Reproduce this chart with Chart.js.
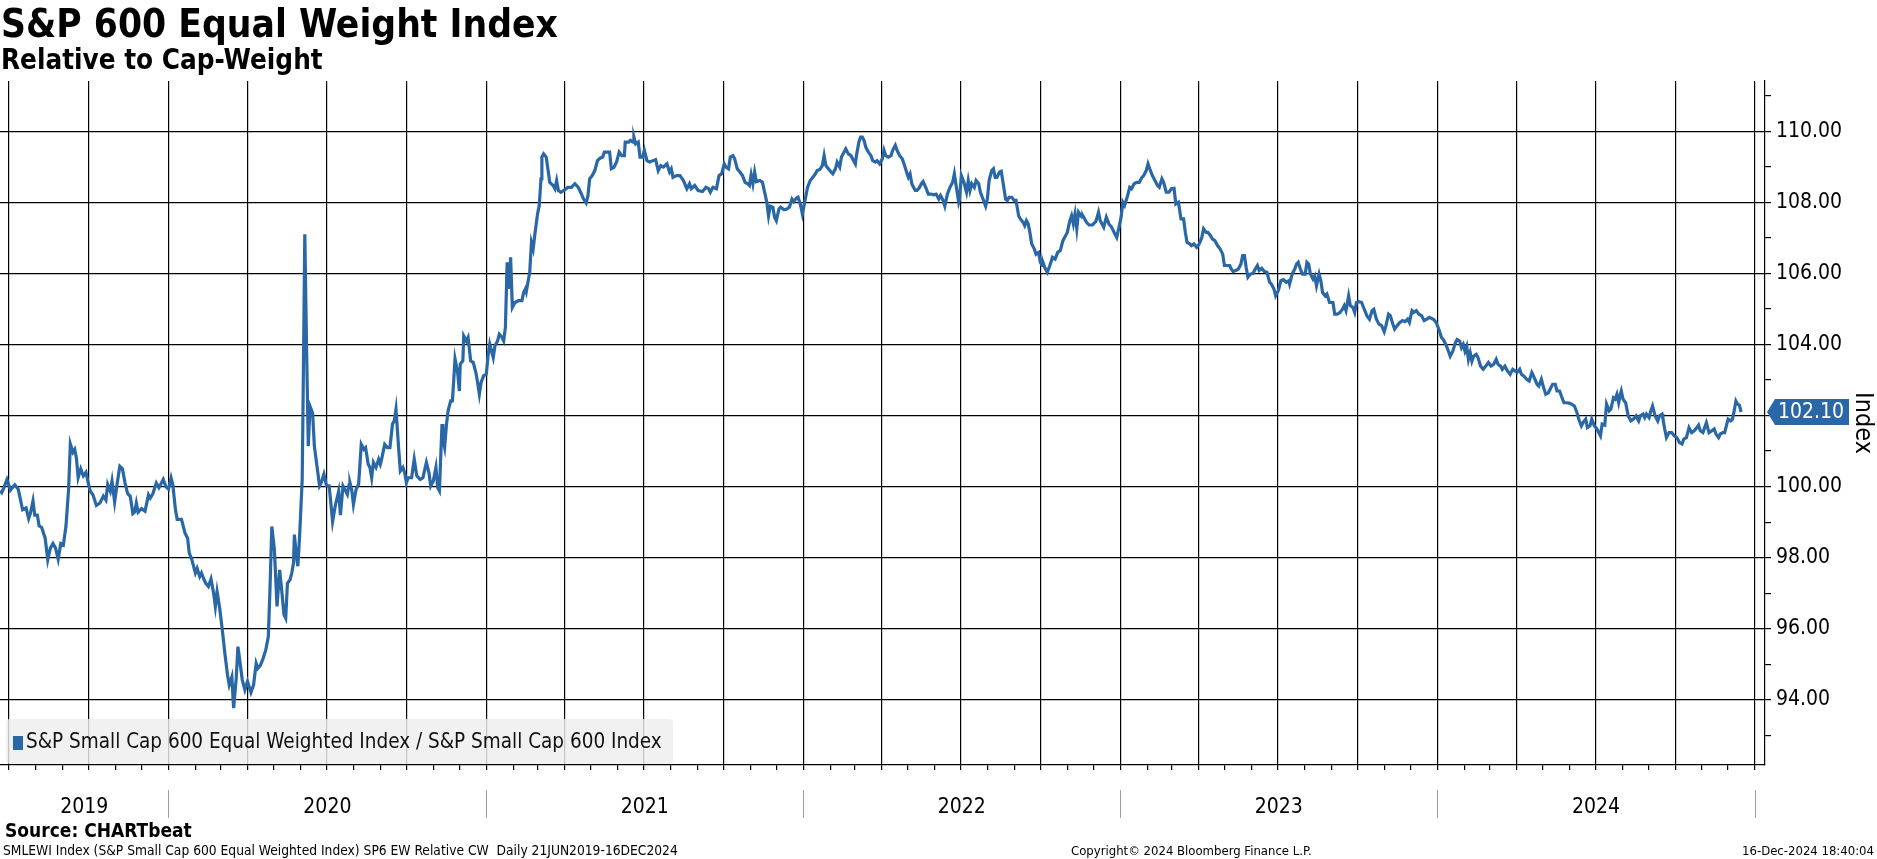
<!DOCTYPE html>
<html>
<head>
<meta charset="utf-8">
<script src="https://cdn.jsdelivr.net/npm/chart.js@4.4.1/dist/chart.umd.min.js"></script>
<style>
  html, body { margin: 0; padding: 0; background: #fff; }
  #wrap { position: relative; width: 1877px; height: 859px; overflow: hidden;
    font-family: "DejaVu Sans Condensed", "DejaVu Sans", sans-serif; font-stretch: condensed; color: #000; }
  #wrap canvas { position: absolute; left: 0; top: 0; }
  .txt { position: absolute; white-space: nowrap; line-height: 1; }
  #title { left: 1px; top: 5px; font-size: 38.6px; font-weight: bold; }
  #subtitle { left: 1px; top: 46px; font-size: 27.6px; font-weight: bold; }
  #source { left: 5px; top: 821px; font-size: 19px; font-weight: bold; }
  #desc { left: 3px; top: 844px; font-size: 13.7px; }
  #copy { left: 1071px; top: 844px; font-size: 13px; }
  #stamp { right: 3px; top: 844px; font-size: 13px; }
</style>
</head>
<body>
<div id="wrap">
  <canvas id="chart"></canvas>
  <div class="txt" id="title">S&amp;P 600 Equal Weight Index</div>
  <div class="txt" id="subtitle">Relative to Cap-Weight</div>
  <div class="txt" id="source">Source: CHARTbeat</div>
  <div class="txt" id="desc">SMLEWI Index (S&amp;P Small Cap 600 Equal Weighted Index) SP6 EW Relative CW&nbsp; Daily 21JUN2019-16DEC2024</div>
  <div class="txt" id="copy">Copyright© 2024 Bloomberg Finance L.P.</div>
  <div class="txt" id="stamp">16-Dec-2024 18:40:04</div>
</div>
<script>
// S&P 600 EW / S&P 600 ratio
const seriesLabel = 'S&P Small Cap 600 Equal Weighted Index / S&P Small Cap 600 Index'
const startDate = '2019-06-21'   // day 0 of dayOffsets
const yearLabels = ['2019', '2020', '2021', '2022', '2023', '2024']
const yTickValues = [94, 96, 98, 100, 102, 104, 106, 108, 110]

// days since startDate
const dayOffsets = [
  0,2,5,8,10,12,17,21,23,26,30,33,35,38,40,43,45,48,52,55,
  58,61,64,67,70,73,76,79,81,84,86,88,90,93,96,99,102,104,107,111,
  115,119,122,124,127,129,132,135,138,141,144,147,150,153,155,157,159,163,167,171,
  173,176,180,183,188,191,194,197,199,202,204,209,213,216,218,221,225,227,230,232,
  235,237,240,243,246,248,250,253,256,259,262,264,267,269,272,274,276,279,282,285,
  289,292,295,297,300,303,306,309,311,313,316,319,322,324,327,329,331,334,336,338,
  339,341,343,345,348,349,351,353,355,357,360,362,365,368,370,373,376,379,381,383,
  386,390,392,395,397,400,402,
  403,405,407,410,413,416,419,421,424,426,
  428,430,433,436,438,439,443,446,449,452,
  454,456,459,461,464,466,468,470,474,477,
  480,484,487,491,494,496,499,502,504,506,
  509,510,512,514,516,519,521,524,527,529,
  530,533,534,537,539,542,545,548,550,552,
  554,557,560,562,564,566,568,570,573,575,
  578,580,582,584,586,588,590,593,597,601,
  603,605,606,610,612,614,616,619,621,623,
  624,626,629,632,633,637,639,641,643,646,
  649,652,654,658,662,666,669,672,675,677,
  679,682,685,688,691,694,696,699,702,704,
  707,710,713,716,719,720,724,726,729,730,
  732,735,737,740,742,745,748,752,755,758,
  761,764,768,771,773,775,779,783,787,791,
  794,796,800,804,809,813,816,
  818,821,825,828,831,834,836,839,841,844,
  846,849,852,855,858,861,863,865,867,869,
  871,875,878,881,883,885,887,890,892,894,
  897,899,903,906,909,912,914,917,919,922,
  924,927,930,933,936,939,941,944,947,949,
  951,954,957,959,962,964,967,969,972,974,
  977,980,983,985,986,989,991,993,995,997,
  1000,1003,1005,1008,1010,1013,1016,1018,1020,1023,
  1026,1028,1031,1033,1036,1039,1041,1044,1046,1048,
  1050,1052,1054,1056,1059,1061,1063,1066,1069,1072,
  1075,1078,1081,1083,1086,1088,1091,1094,1097,1099,
  1101,1104,1105,1107,1110,1113,1115,1117,1119,1122,
  1124,1127,1129,1132,1135,1137,1139,1142,1144,1146,
  1148,1151,1153,1155,1158,1160,1162,1165,1168,1170,
  1173,1175,1178,1180,1182,1184,1186,1188,1191,1193,
  1196,1198,1200,1201,1203,1206,1209,1212,1215,1218,
  1221,1224,1226,1229,
  1232,1234,1236,1238,1240,1242,1246,1247,1251,1254,
  1258,1262,1265,1267,1271,1274,1277,1280,1283,1286,
  1289,1291,1293,1295,1298,1301,1303,1306,1309,1312,
  1315,1317,1320,1322,1324,1327,1330,1333,1335,1338,
  1340,1343,1346,1349,1352,1354,1357,1360,1363,1365,
  1367,1370,1372,1375,1378,1381,1384,1386,1389,1391,
  1394,1396,1399,1402,1405,1408,1410,1412,1416,1418,
  1420,1423,1426,1429,1431,1433,1435,1437,1440,1443,
  1446,1448,1450,1453,1456,1459,1462,1464,1467,1469,
  1472,1475,1478,1481,1484,1485,1488,1491,1493,1495,
  1498,1500,1503,1505,1507,1509,1512,1514,1516,1519,
  1521,1523,1526,1528,1531,1535,1537,1540,1543,1546,
  1548,1550,1553,1555,1558,1560,1562,1565,1568,1571,
  1574,1577,1580,1582,1585,1588,1591,1594,1596,1599,
  1601,1604,1606,1609,1612,1615,1618,1621,1623,1626,
  1628,1631,1634,1637,1640,1643,1646,
  1651,1654,1657,1660,1662,1665,1668,1670,1673,1676,
  1678,1681,1683,1685,1687,1689,1691,1693,1695,1697,
  1700,1702,1705,1708,1711,1714,1717,1720,1723,1725,
  1728,1730,1733,1736,1739,1742,1745,1747,1750,1752,
  1755,1758,1761,1764,1766,1770,1772,1775,1777,1780,
  1783,1786,1788,1791,1793,1796,1798,1801,1804,1807,
  1810,1813,1816,1818,1821,1823,1826,1828,1831,1833,
  1836,1839,1843,1845,1848,1850,1853,1855,1858,1860,
  1862,1864,1866,1867,1869,1872,1875,1878,1881,1884,
  1887,1889,1892,1894,1896,1899,1901,1903,1906,1909,
  1911,1914,1915,1917,1919,1922,1925,1928,1931,1934,
  1937,1939,1942,1945,1948,1951,1954,1956,1958,1961,
  1963,1965,1968,1971,1974,1976,1979,1981,1984,1986,
  1988,1990,1993,1995,1997,1999,2001,2003,2005
]

const ratioValues = [
  99.88,99.83,100.0,100.2,100.05,99.9,100.05,99.93,99.7,99.35,99.4,99.1,99.25,99.6,99.2,99.2,98.9,98.85,98.55,97.94,
  98.27,98.4,98.27,97.96,98.4,98.36,98.9,99.93,101.2,100.97,101.05,100.8,100.25,100.5,100.3,100.4,100.06,99.87,99.77,99.47,
  99.54,99.73,99.62,100.06,99.87,100.16,99.57,100.1,100.57,100.5,100.1,99.8,99.73,99.24,99.28,99.54,99.28,99.38,99.31,99.77,
  99.68,99.8,100.1,99.97,100.2,100.0,99.93,100.25,100.06,99.36,99.08,99.08,98.7,98.55,98.13,97.94,97.57,97.7,97.47,97.57,
  97.38,97.28,97.19,97.4,97.0,96.63,97.05,96.58,95.97,95.3,94.7,94.42,94.65,93.77,94.6,95.5,95.13,94.56,94.28,94.52,
  94.21,94.42,95.03,94.89,94.98,95.17,95.4,95.78,97.19,98.88,98.22,96.63,97.66,97.19,96.4,96.3,97.28,97.38,97.57,97.85,
  98.65,98.13,97.76,98.6,100.2,102.36,107.1,103.95,101.14,102.26,102.07,101.14,100.58,100.02,100.11,100.35,100.02,100.02,99.54,99.02,
  99.45,99.87,99.2,100.02,99.93,99.78,100.06,
  100.11,99.92,99.5,99.92,100.07,101.19,101.05,101.1,100.63,100.54,
  100.25,100.68,100.54,100.77,100.63,100.72,101.19,101.1,101.1,101.76,
  101.85,102.18,101.1,100.44,100.54,100.39,100.11,100.25,100.25,100.77,
  100.3,100.2,100.25,100.68,100.39,100.02,100.16,100.54,99.97,99.88,
  101.76,101.33,101.1,101.71,102.13,102.41,102.41,103.59,103.21,102.69,
  103.45,103.54,104.24,104.1,104.2,103.54,103.49,103.21,102.93,102.6,
  102.93,103.12,103.16,103.68,104.01,103.82,103.63,103.96,104.1,104.29,
  104.2,104.1,104.48,106.31,105.56,106.45,105.04,105.18,105.23,105.23,
  105.46,105.56,105.48,106.03,106.87,106.69,107.11,107.67,107.91,108.66,
  109.27,109.36,109.27,108.75,108.56,108.47,108.38,108.61,108.33,108.28,
  108.33,108.38,108.42,108.42,108.52,108.42,108.26,108.09,107.98,108.17,
  108.66,108.75,108.89,109.17,109.24,109.27,109.41,109.41,109.41,108.94,
  108.98,109.13,109.41,109.31,109.31,109.69,109.69,109.74,109.69,109.83,
  109.64,109.69,109.27,109.27,109.46,109.17,109.13,109.17,109.2,108.89,
  109.03,108.99,109.08,108.85,108.94,108.7,108.75,108.75,108.61,108.38,
  108.52,108.38,108.47,108.33,108.3,108.42,108.38,
  108.28,108.42,108.38,108.75,108.8,109.08,108.99,108.94,109.27,109.31,
  109.22,108.94,108.85,108.75,108.56,108.52,108.47,108.77,108.52,108.85,
  108.58,108.61,108.56,108.23,108.0,107.62,107.89,107.86,107.58,107.48,
  107.81,107.86,107.79,107.81,107.86,108.09,108.02,108.11,108.14,107.91,
  107.67,108.05,108.42,108.61,108.7,108.8,108.89,108.92,109.03,109.31,
  109.03,108.94,108.85,108.8,108.94,109.13,108.99,109.27,109.41,109.5,
  109.36,109.31,109.17,109.08,109.27,109.69,109.83,109.83,109.74,109.55,
  109.41,109.31,109.17,109.13,109.17,109.08,109.22,109.46,109.31,109.27,
  109.31,109.46,109.6,109.46,109.31,109.22,109.08,108.85,108.7,108.8,
  108.52,108.42,108.33,108.33,108.42,108.52,108.58,108.42,108.23,108.23,
  108.21,108.23,108.09,108.19,108.05,107.89,108.23,108.42,108.56,108.8,
  108.47,108.0,108.09,108.75,108.56,108.28,108.61,108.33,108.52,108.42,
  108.61,108.52,108.28,108.09,107.89,108.09,108.61,108.89,108.94,108.7,
  108.7,108.85,108.87,108.56,108.09,108.05,108.14,108.14,108.05,108.05,
  107.62,107.53,107.44,107.34,107.48,107.39,107.15,106.83,106.69,106.54,
  106.59,106.31,106.22,106.31,106.17,106.03,106.22,106.45,106.4,106.59,
  106.64,106.92,107.01,107.15,
  107.48,107.62,107.39,107.67,107.25,107.72,107.58,107.62,107.44,107.36,
  107.36,107.46,107.72,107.48,107.3,107.58,107.39,107.3,107.15,107.01,
  107.34,107.58,108.0,107.91,108.14,108.42,108.38,108.52,108.56,108.56,
  108.7,108.75,108.89,109.08,108.94,108.75,108.61,108.47,108.42,108.66,
  108.56,108.28,108.28,108.38,108.39,107.95,108.0,107.53,107.53,107.15,
  106.87,106.83,106.78,106.83,106.73,106.83,107.01,107.25,107.15,107.15,
  107.06,106.97,106.92,106.78,106.69,106.54,106.22,106.22,106.22,106.12,
  106.05,106.08,106.12,106.26,106.5,106.5,106.17,105.89,105.98,106.0,
  106.14,106.22,106.08,106.14,106.05,106.03,105.75,105.7,105.56,105.37,
  105.51,105.79,105.82,105.75,105.79,105.7,105.98,106.12,106.26,106.31,
  106.08,105.98,105.98,106.31,106.26,105.98,105.84,105.93,105.65,105.98,
  105.79,105.46,105.37,105.42,105.18,105.18,104.85,104.85,104.9,104.99,
  105.09,104.95,105.37,105.09,105.04,104.9,105.18,105.2,105.18,104.99,
  104.81,104.71,104.95,104.99,104.71,104.57,104.53,104.36,104.53,104.85,
  104.81,104.57,104.43,104.53,104.62,104.67,104.64,104.71,104.62,104.95,
  104.9,104.95,104.85,104.81,104.67,104.71,104.76,
  104.7,104.61,104.42,104.19,104.14,104.0,103.81,103.67,103.81,104.05,
  104.14,104.09,103.91,104.0,103.81,103.95,103.58,103.77,103.53,103.67,
  103.72,103.63,103.39,103.3,103.39,103.49,103.39,103.44,103.58,103.44,
  103.39,103.3,103.39,103.25,103.16,103.3,103.25,103.21,103.3,103.16,
  103.11,103.02,102.97,103.21,103.11,102.88,102.83,103.02,102.83,102.6,
  102.64,102.79,102.88,102.88,102.69,102.69,102.55,102.36,102.36,102.35,
  102.32,102.27,102.08,101.9,101.71,101.8,101.9,101.66,101.71,101.9,
  101.71,101.62,101.43,101.76,101.73,102.32,102.13,102.18,102.5,102.46,
  102.6,102.36,102.6,102.69,102.46,102.36,101.99,101.85,101.9,101.99,
  101.85,101.99,102.04,101.94,102.04,101.94,102.13,102.27,101.99,101.85,
  101.99,102.04,101.9,101.62,101.38,101.52,101.52,101.43,101.38,101.24,
  101.2,101.34,101.38,101.66,101.52,101.57,101.66,101.73,101.57,101.52,
  101.66,101.8,101.52,101.57,101.62,101.48,101.38,101.48,101.52,101.52,
  101.71,101.9,101.85,101.9,102.13,102.41,102.32,102.29,102.1
]

if (dayOffsets.length !== ratioValues.length) {
  throw new Error('length mismatch ' + dayOffsets.length + ' vs ' + ratioValues.length)
}

const lineColor = '#2967a6'
const fontFamily = '"DejaVu Sans Condensed", "DejaVu Sans", sans-serif'
const startUTC = Date.parse(startDate + 'T00:00:00Z')
const dayOf = (y, m) => Math.round((Date.UTC(y, m, 1) - startUTC) / 86400000)

const xMaxDay = 2032.5
const yMin = 92.17
const yMax = 111.41

// month ticks (gridlines on quarter starts) plus a centred tick per year for the label
const monthTicks = []
for (let y = 2019; y <= 2025; y++) {
  for (let m = 0; m < 12; m++) {
    const d = dayOf(y, m)
    if (d > 0 && d <= xMaxDay) monthTicks.push({ value: d, quarter: m % 3 === 0 })
  }
}
const quarterDays = new Set(monthTicks.filter(t => t.quarter).map(t => t.value))
const yearMid = {}
yearLabels.forEach(lab => {
  const y = Number(lab)
  const a = Math.max(0, dayOf(y, 0))
  const b = Math.min(xMaxDay, dayOf(y + 1, 0))
  yearMid[String((a + b) / 2)] = lab
})

Chart.defaults.font.family = fontFamily
Chart.defaults.color = '#000'

const points = dayOffsets.map((d, i) => ({ x: d, y: ratioValues[i] }))

const yearSeparators = {
  id: 'yearSeparators',
  afterDraw(chart) {
    const { ctx, chartArea } = chart
    const xs = chart.scales.x
    ctx.save()
    ctx.strokeStyle = '#9c9c9c'
    ctx.lineWidth = 1
    yearLabels.slice(1).concat(['2025']).forEach(lab => {
      const px = Math.round(xs.getPixelForValue(dayOf(Number(lab), 0))) + 0.5
      ctx.beginPath()
      ctx.moveTo(px, chartArea.bottom + 25)
      ctx.lineTo(px, chartArea.bottom + 53)
      ctx.stroke()
    })
    ctx.restore()
  }
}

const boxLegend = {
  id: 'boxLegend',
  afterDatasetsDraw(chart) {
    const { ctx, chartArea } = chart
    const x0 = chartArea.left + 6
    const y0 = chartArea.bottom - 46
    const w = 667
    const h = 45
    ctx.save()
    ctx.fillStyle = 'rgba(238,238,238,0.82)'
    ctx.beginPath()
    ctx.roundRect(x0, y0, w, h, 4)
    ctx.fill()
    ctx.fillStyle = lineColor
    ctx.fillRect(x0 + 7, y0 + 17, 10, 14)
    ctx.fillStyle = '#111'
    ctx.font = '20.5px ' + fontFamily
    ctx.textBaseline = 'middle'
    ctx.fillText(chart.data.datasets[0].label, x0 + 20, y0 + 24)
    ctx.restore()
  }
}

const lastTag = {
  id: 'lastTag',
  afterDraw(chart) {
    const { ctx, chartArea } = chart
    const val = ratioValues[ratioValues.length - 1]
    const y = chart.scales.y.getPixelForValue(val)
    const x0 = chartArea.right + 2
    const h = 26
    ctx.save()
    ctx.fillStyle = lineColor
    ctx.beginPath()
    ctx.moveTo(x0, y)
    ctx.lineTo(x0 + 8, y - h / 2)
    ctx.lineTo(x0 + 82, y - h / 2)
    ctx.lineTo(x0 + 82, y + h / 2)
    ctx.lineTo(x0 + 8, y + h / 2)
    ctx.closePath()
    ctx.fill()
    ctx.fillStyle = '#fff'
    ctx.font = '21px ' + fontFamily
    ctx.textBaseline = 'middle'
    ctx.fillText(val.toFixed(2), x0 + 11, y + 1)
    ctx.restore()
  }
}

new Chart(document.getElementById('chart'), {
  type: 'line',
  data: {
    datasets: [{
      label: seriesLabel,
      data: points,
      borderColor: lineColor,
      backgroundColor: lineColor,
      borderWidth: 3.2,
      pointRadius: 0,
      tension: 0,
      fill: false
    }]
  },
  options: {
    responsive: true,
    maintainAspectRatio: false,
    animation: false,
    layout: { padding: { top: 81, left: 0, right: 0, bottom: 0 } },
    plugins: { legend: { display: false }, tooltip: { enabled: false } },
    scales: {
      x: {
        type: 'linear',
        min: 0,
        max: xMaxDay,
        afterBuildTicks: s => {
          const mids = Object.keys(yearMid).map(k => ({ value: Number(k) }))
          s.ticks = monthTicks.map(t => ({ value: t.value })).concat(mids).sort((a, b) => a.value - b.value)
        },
        afterFit: s => { s.height = 94; s.paddingLeft = 0; s.paddingRight = 0 },
        grid: {
          color: c => (c.tick && quarterDays.has(c.tick.value)) ? '#000' : 'rgba(0,0,0,0)',
          tickColor: c => (c.tick && yearMid[String(c.tick.value)]) ? 'rgba(0,0,0,0)' : '#000',
          lineWidth: 1.2,
          tickLength: 5
        },
        border: { color: '#000', width: 1.2 },
        ticks: {
          autoSkip: false,
          maxRotation: 0,
          minRotation: 0,
          padding: 25,
          color: '#000',
          font: { size: 21 },
          callback: v => yearMid[String(v)] || ''
        }
      },
      y: {
        position: 'right',
        min: yMin,
        max: yMax,
        afterBuildTicks: s => {
          const t = []
          for (let v = 93; v <= 111; v++) t.push({ value: v })
          s.ticks = t
        },
        afterFit: s => { s.width = 112; s.paddingTop = 0; s.paddingBottom = 0 },
        grid: {
          color: c => (c.tick && yTickValues.includes(c.tick.value)) ? '#000' : 'rgba(0,0,0,0)',
          tickColor: '#000',
          lineWidth: 1.2,
          tickLength: 6
        },
        border: { color: '#000', width: 1.2 },
        ticks: {
          autoSkip: false,
          padding: 5,
          color: '#000',
          font: { size: 21 },
          callback: v => (yTickValues.includes(v) && v !== 102) ? v.toFixed(2) : ''
        },
        title: { display: true, text: 'Index', color: '#000', font: { size: 25 }, padding: 0 }
      }
    }
  },
  plugins: [yearSeparators, boxLegend, lastTag]
})
</script>
</body>
</html>
